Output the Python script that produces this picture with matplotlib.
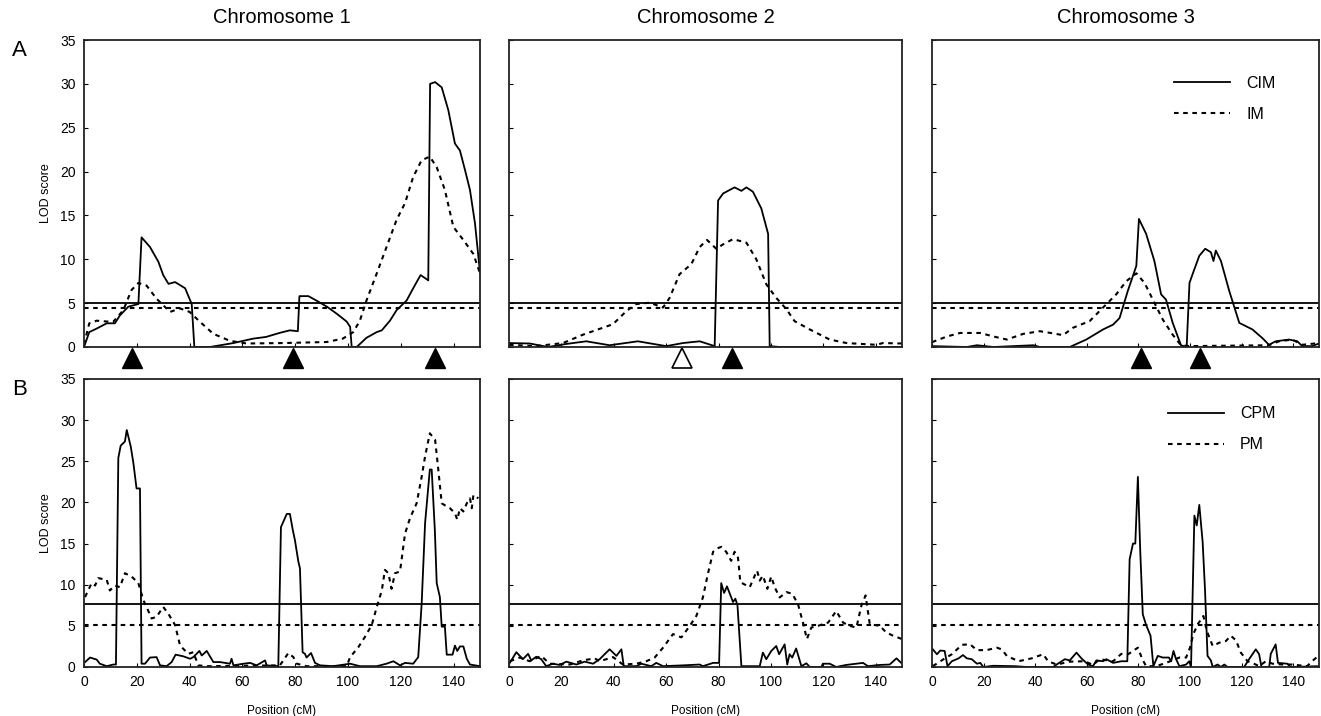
import matplotlib
matplotlib.use('Agg')
import matplotlib.pyplot as plt
import matplotlib.transforms as mtransforms

plt.rcParams['font.family'] = ['Liberation Sans', 'DejaVu Sans']

# ---- panel A: CIM / IM ----
cim1_x = [0, 2, 4.8, 8.6, 11.7, 13.6, 16.8, 20.6, 21.8, 25, 28.2, 30, 32, 34.5, 38.3, 40.8, 41.8, 47.7,
          56.6, 64, 69, 74, 78, 81, 81.6, 85, 88, 92, 95.7, 99.5, 100.8, 101.4, 103.3, 107, 110.9, 112.8,
          115.9, 118.4, 122.2, 124.7, 127.5, 130.4, 131.1, 133, 135.5, 138, 140.5, 142.4, 144.3, 146.2,
          148.1, 150]
cim1_y = [0, 1.7, 2.1, 2.7, 2.7, 3.6, 4.6, 4.9, 12.5, 11.4, 9.7, 8.2, 7.2, 7.4, 6.7, 4.9, 0, 0,
          0.45, 0.95, 1.15, 1.6, 1.9, 1.8, 5.8, 5.8, 5.3, 4.6, 3.8, 2.9, 2.3, 0, 0, 1.05, 1.7, 1.9,
          3.0, 4.2, 5.3, 6.7, 8.2, 7.6, 30.0, 30.2, 29.6, 27, 23.2, 22.4, 20.2, 17.9,
          14.1, 8.5]
im1_x = [0, 2, 4.8, 11, 14.9, 18, 20.6, 23.7, 27.5, 32.6, 36.4, 40, 44, 49, 55.3, 61.6, 75.5, 92, 98,
         102, 104.5, 107, 110.9, 114.6, 118.4, 121.6, 124.7, 127.9, 131, 133.6, 136.7, 139.9, 143.7,
         147.5, 150]
im1_y = [0.3, 2.7, 3.0, 2.85, 4.2, 6.5, 7.3, 7.0, 5.5, 4.0, 4.4, 4.0, 2.85, 1.5, 0.7, 0.4, 0.45, 0.57, 0.95,
         1.7, 3.0, 5.3, 8.4, 11.4, 14.5, 16.4, 19.4, 21.3, 21.7, 20.5, 17.9, 13.7, 12.2,
         10.6, 8.4]

cim2_x = [0, 7.9, 14.9, 21.9, 29.5, 38.4, 49.2, 60, 66.4, 72.8, 78.5, 79.8, 81.7, 86.1, 88.7, 90.6, 93.1,
          96.3, 98.9, 99.5, 103.3, 150]
cim2_y = [0.45, 0.4, 0, 0.35, 0.65, 0.2, 0.65, 0.1, 0.45, 0.65, 0.1, 16.7, 17.5, 18.2, 17.8, 18.2, 17.7,
          15.8, 12.9, 0.1, 0, 0]
im2_x = [0, 10.4, 20.6, 28.2, 39.7, 44.8, 48.6, 53.7, 58.8, 61.3, 65.1, 69.6, 72.8, 75.6, 79.1, 81.7, 85.5,
         90.6, 94.4, 98.2, 102, 105.9, 109, 114.8, 122.4, 128.8, 140.2, 142.7, 150]
im2_y = [0.25, 0.1, 0.45, 1.4, 2.6, 4.1, 4.9, 5.05, 4.5, 5.6, 8.3, 9.45, 11.4, 12.2, 11.2, 11.7, 12.3,
         11.9, 10.0, 7.15, 5.6, 4.3, 2.95, 2.0, 0.85, 0.45, 0.25, 0.45, 0.4]

cim3_x = [0, 13.5, 17.4, 23.8, 39.3, 41.8, 53.4, 59.8, 66.3, 70.2, 72.7, 75.9, 79.2, 80.2, 83, 86.2, 88.8,
          90.7, 93.3, 96.5, 98.7, 99.8, 101, 103.6, 105.9, 108.1, 109.1, 110, 112, 115.2, 119.1, 124.2,
          128.1, 130.6, 133.2, 138.4, 141.6, 143.5, 147.3, 150]
cim3_y = [0.1, 0, 0.2, 0, 0.2, 0, 0, 0.85, 2.0, 2.55, 3.3, 6.4, 9.25, 14.6, 12.9, 9.8, 6.0,
          5.4, 2.75, 0.2, 0, 7.3, 8.3, 10.4, 11.2, 10.8, 9.8, 11.0, 9.8, 6.4, 2.75, 2.0,
          1.0, 0.25, 0.65, 0.85, 0.65, 0.1, 0.1, 0.4]
im3_x = [0, 5.8, 10.9, 18.7, 23.8, 29, 35.4, 41.8, 47, 50.8, 54.7, 61.1, 66.3, 71.4, 75.3, 79.2, 82.4,
         85.6, 89.5, 93.3, 96.5, 99.8, 130.6, 134.5, 139.6, 143.5, 150]
im3_y = [0.55, 1.2, 1.6, 1.6, 1.2, 0.85, 1.5, 1.8, 1.55, 1.35, 2.2, 2.95, 4.5, 6.0, 7.5, 8.4, 7.3,
         5.4, 3.1, 1.4, 0.2, 0.1, 0.2, 0.65, 0.85, 0.25, 0.45]

# ---- panel B: CPM / PM ----
cpm1_x = [0.4, 2.3, 4.8, 6, 8.6, 11.1, 12.1, 13, 13.9, 15.5, 16.2, 17.7, 18.7, 19.9, 21.2, 21.8, 23.1, 25,
          27.5, 28.8, 31.3, 33.2, 34.7, 37.6, 40.2, 41.4, 43.7, 44.6, 46.5, 49, 51.5, 55.3, 55.9, 56.6,
          60.4, 62.9, 65.4, 68.6, 69.2, 73.6, 74.6, 76.8, 78, 79, 79.9, 81.2, 81.8, 82.8, 83.7, 84.3,
          86, 87.5, 89.4, 94.4, 100.8, 104.5, 110.9, 114.6, 117.2, 119.7, 121.6, 124.7, 126.6, 127.9,
          129.2, 131, 131.7, 132.9, 133.6, 134.8, 135.5, 136.7, 137.4, 139.6, 140.5, 141.4, 142.4,
          143.7, 145, 146.2, 150]
cpm1_y = [0.6, 1.15, 0.9, 0.4, 0.1, 0.3, 0.3, 25.4, 26.9, 27.4, 28.8, 26.8, 24.8, 21.7, 21.7, 0.4, 0.4, 1.15,
          1.2, 0.2, 0.1, 0.6, 1.5, 1.3, 1.0, 1.2, 1.95, 1.4, 1.95, 0.6, 0.6, 0.4, 1.0, 0.2,
          0.4, 0.5, 0.2, 0.8, 0.2, 0.1, 17.0, 18.6, 18.6, 16.8, 15.4, 12.8, 12.0, 1.8, 1.6, 1.15,
          1.7, 0.5, 0.2, 0.1, 0.4, 0.1, 0.1, 0.4, 0.7, 0.2, 0.5, 0.4, 1.2, 7.7,
          17.5, 24.0, 24.0, 16.6, 10.2, 8.5, 4.9, 4.9, 1.5, 1.5, 2.6, 1.95, 2.5,
          2.5, 1.0, 0.3, 0.1]
pm1_x = [0.4, 2.9, 4.2, 5.4, 8.6, 9.8, 11.7, 13.6, 15.5, 18, 20.6, 22.5, 23.7, 25.6, 27.5, 30, 31.9, 34.5,
         36.4, 39.5, 41.4, 43.3, 46.5, 74.2, 77.4, 79.3, 80.6, 84.3, 99.5, 100.8, 103.9, 106.4, 109,
         110.9, 112.8, 114, 115.3, 116.5, 117.8, 119.7, 121.6, 123.5, 126, 127.9, 129.2, 131, 133,
         134.2, 135.5, 137.4, 138.6, 140.5, 141.4, 142.4, 143.7, 145, 146.2, 146.9, 147.5, 149.4]
pm1_y = [8.5, 10.2, 9.9, 10.8, 10.6, 9.3, 9.9, 9.7, 11.4, 11.0, 10.2, 8.1, 7.3, 5.9, 6.1, 7.3, 6.5, 5.1,
         2.6, 1.6, 1.8, 0.2, 0.1, 0.2, 1.7, 1.2, 0.4, 0.1, 0.1, 1.2, 2.4, 3.65, 5.1,
         7.3, 9.3, 11.8, 11.4, 9.5, 11.4, 11.6, 16.2, 18.1, 19.9, 23.1, 25.6, 28.4, 27.6,
         24.0, 19.9, 19.5, 19.3, 18.7, 17.9, 19.3, 18.9, 19.9, 20.5, 19.3, 20.9, 20.5]

cpm2_x = [0.3, 2.8, 5.3, 7.3, 8.5, 10.4, 12.3, 14.2, 16.8, 19.3, 21.9, 25.7, 28.9, 32.1, 34.6, 38.4, 41,
          42.9, 43.8, 48.6, 50.5, 54.3, 56.2, 58.8, 66.4, 72.8, 74, 77.9, 80.2, 81, 82.1, 83.2, 85.5,
          86.4, 87.2, 88.7, 91.9, 95.7, 96.9, 98.2, 100.1, 102, 103.1, 105.2, 106.2, 107.1, 108.1,
          109.6, 111.6, 113.5, 114.8, 119.2, 119.8, 122.4, 124.9, 128.7, 135.1, 137, 141.5, 145.3,
          147.9, 149.7]
cpm2_y = [0.5, 1.8, 0.95, 1.6, 0.8, 1.25, 0.95, 0.1, 0.4, 0.25, 0.65, 0.3, 0.65, 0.4, 0.95, 2.15, 1.35,
          2.15, 0.1, 0.1, 0.4, 0.1, 0.5, 0.1, 0.2, 0.3, 0.1, 0.5, 0.5, 10.2, 9.0, 9.8, 7.9,
          8.3, 7.5, 0.1, 0.1, 0.1, 1.75, 0.95, 1.95, 2.55, 1.55, 2.75, 0.3, 1.55, 1.15,
          2.25, 0.1, 0.45, 0, 0, 0.4, 0.4, 0, 0.25, 0.5, 0.1, 0.25, 0.3,
          1.05, 0.5]
pm2_x = [0.3, 4.1, 7.9, 12.3, 15.5, 23.2, 28.2, 32.7, 34.6, 39.7, 43.5, 48.6, 52.4, 55.6, 58.8, 62.6, 65.8,
         69, 71.5, 74, 75.9, 77.9, 79.4, 81, 82.9, 84.8, 86.1, 87.4, 88.3, 91.9, 93.8, 94.7, 95.7,
         96.9, 98.6, 100.1, 101.4, 103.3, 105.9, 108.1, 110.3, 112.2, 113.7, 115.4, 117.9, 121.8,
         124.9, 127.5, 130, 132.6, 134.5, 136.1, 137.7, 141.5, 144, 146.6, 150]
pm2_y = [0.7, 1.15, 0.7, 1.35, 0.4, 0.3, 0.8, 1.05, 0.7, 1.2, 0.3, 0.4, 0.7, 1.15, 2.35, 4.0, 3.6,
         5.0, 6.2, 8.45, 11.3, 14.0, 14.4, 14.6, 14.0, 12.9, 14.0, 13.3, 10.3, 9.7, 11.1, 11.7, 10.5,
         11.1, 9.5, 11.0, 9.7, 8.45, 9.1, 8.9, 7.65, 5.4, 3.4, 4.8, 5.0, 5.4,
         6.8, 5.4, 5.0, 4.8, 7.45, 8.7, 5.2, 5.0, 4.2, 3.8, 3.4]

cpm3_x = [0.3, 1.9, 3.2, 4.9, 6, 7.7, 10.3, 12, 13.5, 15.4, 17.4, 18.7, 19.9, 23.8, 32.2, 36.7, 47, 48.3,
          51.5, 53.4, 56, 57.9, 60.5, 62.4, 63.7, 66.3, 67.6, 70.2, 73.4, 75.7, 76.6, 77.9, 78.8, 79.8,
          80.7, 81.7, 83, 84.7, 85.8, 87.5, 89.4, 91.8, 92.7, 93.6, 94.6, 95.9, 98.5, 99.7, 100.4,
          101.7, 102.6, 103.6, 104.9, 105.8, 106.8, 108.1, 108.8, 110.7, 112, 113.3, 114.5, 121,
          122.9, 125.5, 126.8, 127.7, 130.7, 131.3, 133.2, 134.1, 137.7, 139, 150]
cpm3_y = [2.15, 1.55, 2.0, 1.95, 0.1, 0.7, 1.05, 1.45, 1.05, 0.95, 0.4, 0.5, 0, 0.15, 0.1, 0, 0, 0.3,
          0.95, 0.8, 1.75, 1.05, 0.3, 0.1, 0.8, 0.7, 0.95, 0.5, 0.7, 0.7, 13.1, 15.0, 15.0, 23.1,
          14.2, 6.4, 5.1, 3.8, 0.1, 1.35, 1.15, 1.15, 0.7, 1.95, 0.95, 0.1, 0.3, 0.7, 0,
          18.4, 17.2, 19.7, 15.2, 9.5, 1.35, 0.8, 0, 0.3, 0, 0.3, 0, 0,
          0.95, 2.15, 1.55, 0, 0, 1.6, 2.75, 0.5, 0.4, 0, 0.1]
pm3_x = [0.3, 4.5, 7.7, 11.6, 14.8, 17.4, 21.2, 25.1, 27, 29, 33.5, 38.6, 43.1, 45, 48.3, 53.4, 59.2, 62.4,
         65, 70.2, 73.4, 76, 77.9, 79.8, 81.5, 83, 86.9, 90.7, 95.9, 98.5, 100, 101.3, 103, 105.2,
         106.5, 108.8, 111.3, 113.9, 115.8, 117.8, 119.7, 122.3, 124.8, 126.8, 129.4, 132, 135.8,
         139.6, 145.4, 147.3, 149.2]
pm3_y = [0.1, 0.95, 1.55, 2.7, 2.75, 2.05, 2.05, 2.35, 2.15, 1.35, 0.7, 1.05, 1.55, 0.7, 0.3, 0.65, 0.7, 0.25,
         0.95, 0.7, 1.6, 1.55, 1.95, 2.35, 0.95, 0.1, 0.1, 0.5, 1.15, 1.15, 2.35, 4.0, 5.2, 6.2,
         4.4, 2.55, 2.95, 3.15, 3.8, 3.25, 1.75, 0.7, 0.4, 0.1, 0.7, 0.4, 0.3,
         0.3, 0.1, 0.7, 1.2]

chrom_names = ['Chromosome 1', 'Chromosome 2', 'Chromosome 3']
thr_a = [5.0, 4.5]    # CIM, IM thresholds
thr_b = [7.6, 5.1]    # CPM, PM thresholds
markers_filled = [[18, 79, 133], [85], [81, 104]]
markers_open = [[], [66], []]

row_a = [(cim1_x, cim1_y, im1_x, im1_y), (cim2_x, cim2_y, im2_x, im2_y), (cim3_x, cim3_y, im3_x, im3_y)]
row_b = [(cpm1_x, cpm1_y, pm1_x, pm1_y), (cpm2_x, cpm2_y, pm2_x, pm2_y), (cpm3_x, cpm3_y, pm3_x, pm3_y)]

fig = plt.figure(figsize=(13.21, 7.16), dpi=100)
lefts = [84 / 1321, 509 / 1321, 932 / 1321]
widths = [396 / 1321, 393 / 1321, 387 / 1321]
dot = (0, (2.2, 2.2))

for row, (data, thr, names) in enumerate([(row_a, thr_a, ('CIM', 'IM')), (row_b, thr_b, ('CPM', 'PM'))]):
    if row == 0:
        bottom, height = 1 - 347 / 716, 307 / 716
    else:
        bottom, height = 1 - 667 / 716, 288 / 716
    for col in range(3):
        ax = fig.add_axes([lefts[col], bottom, widths[col], height])
        sx, sy, dx, dy = data[col]
        ax.plot(sx, sy, color='black', lw=1.3, label=names[0])
        ax.plot(dx, dy, color='black', lw=1.5, ls=dot, label=names[1])
        ax.axhline(thr[0], color='black', lw=1.3)
        ax.axhline(thr[1], color='black', lw=1.5, ls=dot)
        ax.set_xlim(0, 150)
        ax.set_ylim(0, 35)
        ax.set_xticks(range(0, 150, 20))
        ax.set_yticks(range(0, 36, 5))
        ax.tick_params(direction='in', length=3, width=0.8, labelsize=10, pad=6)
        for s in ax.spines.values():
            s.set_linewidth(1.3)
            s.set_color('#222222')
        if col > 0:
            ax.set_yticklabels([])
        else:
            ax.set_ylabel('LOD score', fontsize=9, labelpad=6)
        if row == 0:
            ax.set_xticklabels([])
            ax.set_title(chrom_names[col], fontsize=14.5, pad=12)
            trans = mtransforms.blended_transform_factory(ax.transData, ax.transAxes)
            for m in markers_filled[col]:
                ax.plot([m], [-0.037], marker='^', ms=14, color='black', transform=trans, clip_on=False)
            for m in markers_open[col]:
                ax.plot([m], [-0.037], marker='^', ms=14, mfc='white', mec='black', mew=1.2,
                        transform=trans, clip_on=False)
        else:
            ax.set_xlabel('Position (cM)', fontsize=8.5, labelpad=11)
        if col == 2:
            anchor_y = 0.93 if row == 0 else 0.955
            ax.legend(loc='upper right', bbox_to_anchor=(0.925, anchor_y), frameon=False, fontsize=11.5,
                      handlelength=3.5, handletextpad=1.0, labelspacing=1.0)

fig.text(19 / 1321, 1 - 51 / 716, 'A', fontsize=16, ha='center', va='center')
fig.text(20 / 1321, 1 - 390 / 716, 'B', fontsize=16, ha='center', va='center')

fig.savefig('out.png', dpi=100)
